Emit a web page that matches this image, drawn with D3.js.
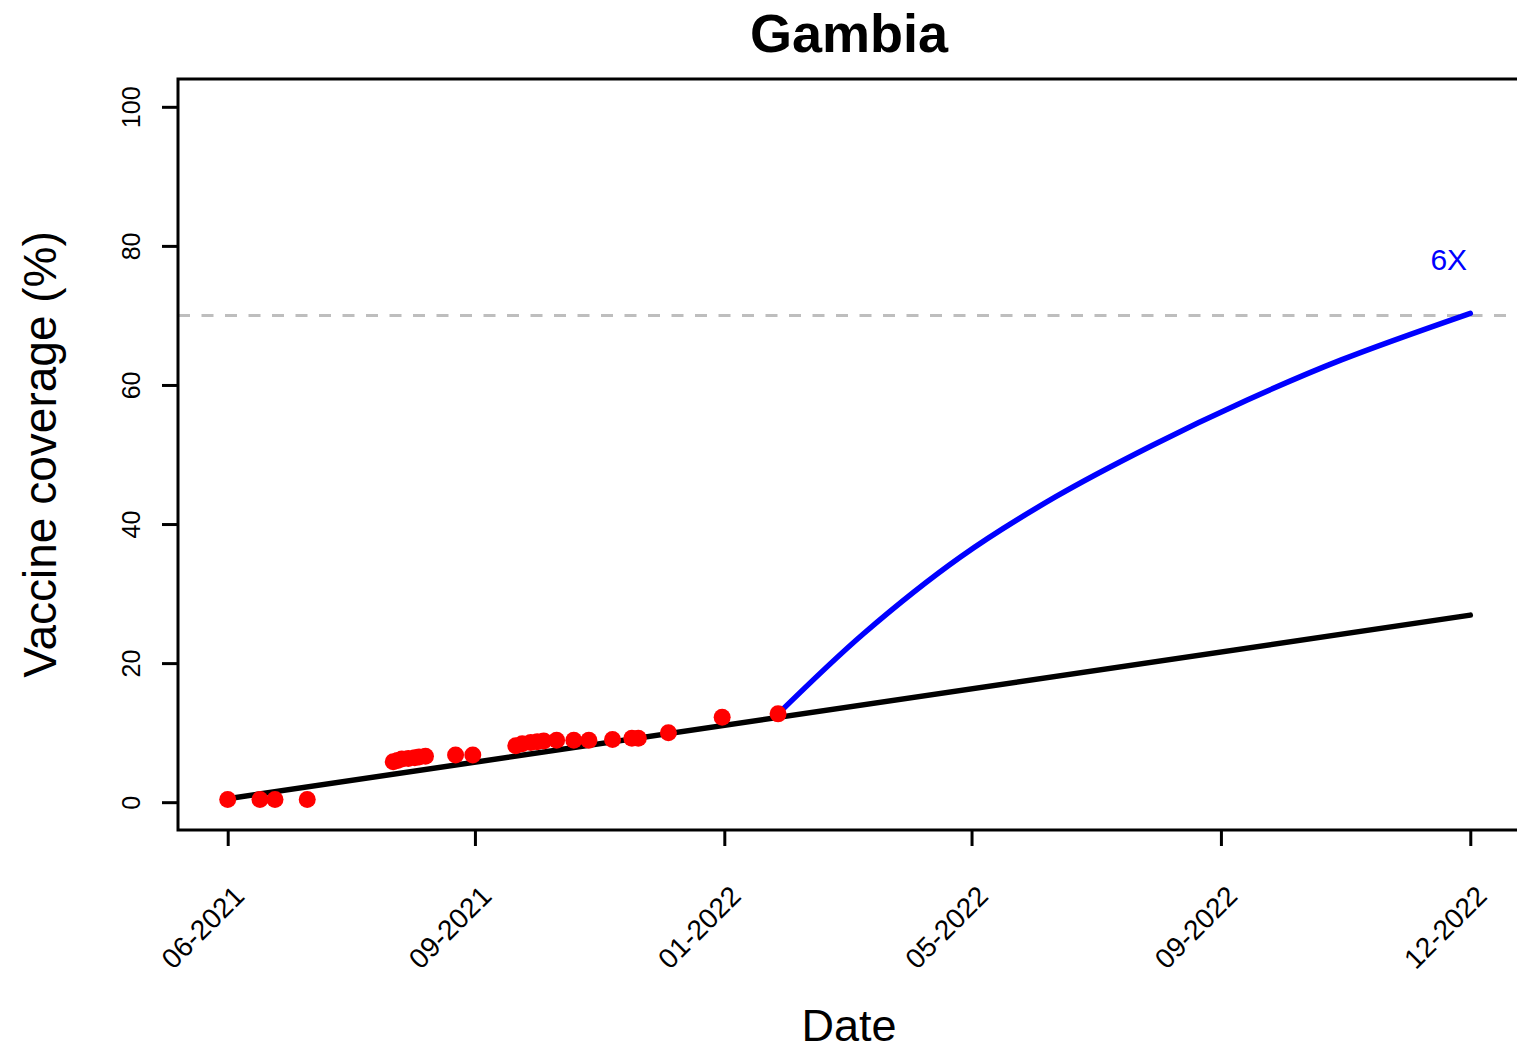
<!DOCTYPE html>
<html>
<head>
<meta charset="utf-8">
<script src="https://cdn.jsdelivr.net/npm/d3@7"></script>
<style>
  body { margin: 0; background: #fff; }
  svg { display: block; font-family: "Liberation Sans", Arial, Helvetica, sans-serif; }
</style>
</head>
<body>
<div id="canvas"></div>
<script>
// observed coverage points
const pointDates = [
  '2021-06-01', '2021-06-16', '2021-06-23', '2021-07-08',
  '2021-08-17', '2021-08-19', '2021-08-21', '2021-08-24', '2021-08-27', '2021-08-29', '2021-09-01',
  '2021-09-15', '2021-09-23',
  '2021-10-13', '2021-10-16', '2021-10-20', '2021-10-23', '2021-10-26', '2021-11-01',
  '2021-11-09', '2021-11-16', '2021-11-27', '2021-12-06', '2021-12-09', '2021-12-23',
  '2022-01-17', '2022-02-12'
];
const pointValues = [
  0.4, 0.4, 0.4, 0.4,
  5.8, 6.0, 6.2, 6.3, 6.4, 6.5, 6.6,
  6.8, 6.8,
  8.1, 8.4, 8.6, 8.7, 8.8, 8.9,
  8.9, 8.9, 9.0, 9.2, 9.2, 10.0,
  12.2, 12.7
];

// linear trend
const trendDates = ['2021-06-01', '2022-12-31'];
const trendValues = [0.5, 26.9];

// 6X projection
const projDates = [
  '2022-02-12', '2022-03-24', '2022-05-08', '2022-06-21',
  '2022-08-05', '2022-09-18', '2022-11-01', '2022-12-31'
];
const projValues = [12.7, 24.3, 35.3, 43.9, 51.3, 57.8, 63.6, 70.3];
const projLabel = '6X';
const projLabelDate = '2022-12-21';
const projLabelValue = 78;

const targetValue = 70;

const yTicks = [0, 20, 40, 60, 80, 100];
const xTickDates = ['2021-06-01', '2021-09-24', '2022-01-18', '2022-05-13', '2022-09-06', '2022-12-31'];
const xTickLabels = ['06-2021', '09-2021', '01-2022', '05-2022', '09-2022', '12-2022'];

const parse = d3.timeParse('%Y-%m-%d');

const W = 1517, H = 1050;
const box = {left: 178, right: 1520, top: 79, bottom: 830};
const padX = (box.right - box.left) * 0.04 / 1.08;
const padY = (box.bottom - box.top) * 0.04 / 1.08;

const svg = d3.select('#canvas')
    .append('svg')
    .attr('width', W)
    .attr('height', H);

const xScale = d3.scaleTime()
    .domain([parse(xTickDates[0]), parse(xTickDates[xTickDates.length - 1])])
    .range([box.left + padX, box.right - padX]);

const yScale = d3.scaleLinear()
    .domain([0, 100])
    .range([box.bottom - padY, box.top + padY]);

const line = d3.line()
    .x(d => xScale(d.date))
    .y(d => yScale(d.value));

const toRows = (dates, values) => dates.map((d, i) => ({date: parse(d), value: values[i]}));

// target line
svg.append('line')
    .attr('x1', box.left)
    .attr('x2', box.right)
    .attr('y1', yScale(targetValue))
    .attr('y2', yScale(targetValue))
    .attr('stroke', '#bebebe')
    .attr('stroke-width', 3)
    .attr('stroke-dasharray', '12 11.5');

svg.append('path')
    .datum(toRows(trendDates, trendValues))
    .attr('d', line)
    .attr('fill', 'none')
    .attr('stroke', 'black')
    .attr('stroke-width', 5.5)
    .attr('stroke-linecap', 'round');

svg.append('path')
    .datum(toRows(projDates, projValues))
    .attr('d', line.curve(d3.curveCatmullRom))
    .attr('fill', 'none')
    .attr('stroke', '#0000ff')
    .attr('stroke-width', 5.5)
    .attr('stroke-linecap', 'round');

svg.append('g')
  .selectAll('circle')
    .data(toRows(pointDates, pointValues))
    .enter()
    .append('circle')
    .attr('cx', d => xScale(d.date))
    .attr('cy', d => yScale(d.value))
    .attr('r', 8.5)
    .attr('fill', '#ff0000');

svg.append('text')
    .text(projLabel)
    .attr('x', xScale(parse(projLabelDate)))
    .attr('y', yScale(projLabelValue))
    .attr('text-anchor', 'middle')
    .attr('dominant-baseline', 'central')
    .attr('fill', '#0000ff')
    .attr('font-size', 30);

// axes
const xAxis = d3.axisBottom(xScale)
    .tickValues(xTickDates.map(parse))
    .tickFormat((d, i) => xTickLabels[i])
    .tickSize(16);

const yAxis = d3.axisLeft(yScale)
    .tickValues(yTicks)
    .tickSize(16);

const gx = svg.append('g')
    .attr('transform', `translate(0, ${box.bottom})`)
    .call(xAxis);
gx.select('.domain').remove();
gx.selectAll('line').attr('stroke-width', 3);
gx.selectAll('text')
    .attr('x', 0).attr('y', 0).attr('dy', null)
    .attr('transform', 'translate(11, 61) rotate(-45)')
    .attr('text-anchor', 'end')
    .attr('dominant-baseline', 'central')
    .attr('font-size', 28)
    .attr('fill', 'black');

const gy = svg.append('g')
    .attr('transform', `translate(${box.left}, 0)`)
    .call(yAxis);
gy.select('.domain').remove();
gy.selectAll('line').attr('stroke-width', 3);
gy.selectAll('text')
    .attr('x', 0).attr('y', 0).attr('dy', null)
    .attr('transform', 'translate(-38, 0) rotate(-90)')
    .attr('text-anchor', 'middle')
    .attr('font-size', 25)
    .attr('fill', 'black');

svg.selectAll('g').attr('font-family', null).attr('font-size', null);

// frame
svg.append('rect')
    .attr('x', box.left)
    .attr('y', box.top)
    .attr('width', box.right - box.left)
    .attr('height', box.bottom - box.top)
    .attr('fill', 'none')
    .attr('stroke', 'black')
    .attr('stroke-width', 3);

// titles
svg.append('text')
    .text('Gambia')
    .attr('x', (box.left + box.right) / 2)
    .attr('y', 52)
    .attr('text-anchor', 'middle')
    .attr('font-weight', 'bold')
    .attr('font-size', 54);

svg.append('text')
    .text('Date')
    .attr('x', (box.left + box.right) / 2)
    .attr('y', 1041)
    .attr('text-anchor', 'middle')
    .attr('font-size', 45);

svg.append('text')
    .text('Vaccine coverage (%)')
    .attr('transform', `translate(56, ${(box.top + box.bottom) / 2}) rotate(-90)`)
    .attr('text-anchor', 'middle')
    .attr('font-size', 46);
</script>
</body>
</html>
